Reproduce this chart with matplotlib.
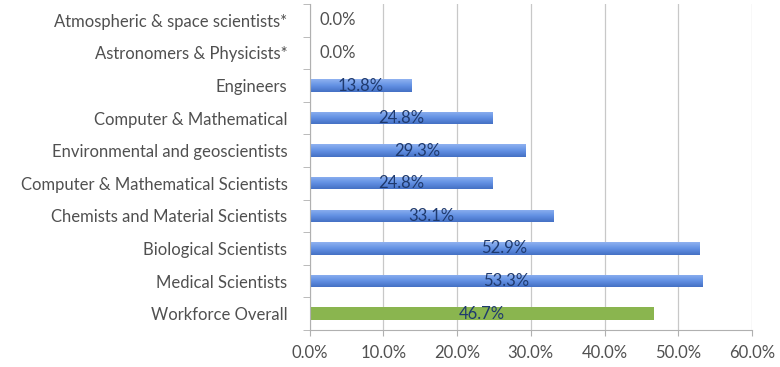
import numpy as np
import matplotlib
matplotlib.use("Agg")
import matplotlib.pyplot as plt
from matplotlib.colors import LinearSegmentedColormap

categories = [
    "Workforce Overall",
    "Medical Scientists",
    "Biological Scientists",
    "Chemists and Material Scientists",
    "Computer & Mathematical Scientists",
    "Environmental and geoscientists",
    "Computer & Mathematical",
    "Engineers",
    "Astronomers & Physicists*",
    "Atmospheric & space scientists*",
]
values = [46.7, 53.3, 52.9, 33.1, 24.8, 29.3, 24.8, 13.8, 0.0, 0.0]
xticks = [0, 10, 20, 30, 40, 50, 60]

plt.rcParams['font.family'] = ['Lato', 'DejaVu Sans']
txt = '#505050'
fs = 12

fig = plt.figure(figsize=(7.8, 3.67), dpi=100)
ax = fig.add_axes([0.397, 0.101, 0.567, 0.888])

y = np.arange(len(categories))
colors = ['#8ab54f'] + ['#5f8de0'] * (len(categories) - 1)
bars = ax.barh(y, values, height=0.38, color=colors, zorder=2)

# vertical gradient on the blue bars (lighter top, darker bottom)
blue_cm = LinearSegmentedColormap.from_list('b', ['#4470c4', '#6391e4', '#8fb2f0'])
grad = np.linspace(0, 1, 64).reshape(-1, 1)
for i, b in enumerate(bars):
    if i == 0 or b.get_width() <= 0:
        continue
    x0, y0 = b.get_x(), b.get_y()
    w, h = b.get_width(), b.get_height()
    im = ax.imshow(grad, cmap=blue_cm, aspect='auto', origin='lower',
                   extent=(x0, x0 + w, y0, y0 + h), zorder=2)
    im.set_clip_path(b)

# value labels inside the bars
for i, v in enumerate(values):
    if v > 0:
        ax.text(v / 2, i, f"{v:.1f}%", ha='center', va='center',
                fontsize=fs, color='#1f3a6e', zorder=3)
    else:
        ax.text(1.3, i, f"{v:.1f}%", ha='left', va='center',
                fontsize=fs, color=txt, zorder=3)

ax.set_xlim(0, 60)
ax.set_ylim(-0.5, len(categories) - 0.5)
ax.set_xticks(xticks)
ax.set_xticklabels([f"{t:.1f}%" for t in xticks], fontsize=fs, color=txt)
ax.set_yticks(y)
ax.set_yticklabels(categories, fontsize=fs, color=txt)
ax.tick_params(axis='y', length=0, pad=16)
ax.tick_params(axis='x', length=4, color='#b0b0b0', pad=7)

# category boundary ticks on the left axis
ax.set_yticks(np.arange(-0.5, len(categories), 1.0), minor=True)
ax.tick_params(axis='y', which='minor', length=5, color='#b0b0b0')

ax.grid(axis='x', color='#c8c8c8', linewidth=0.9, zorder=0)
ax.set_axisbelow(True)
for s in ['top', 'right']:
    ax.spines[s].set_visible(False)
for s in ['left', 'bottom']:
    ax.spines[s].set_color('#b0b0b0')

fig.savefig('out.png', dpi=100)
